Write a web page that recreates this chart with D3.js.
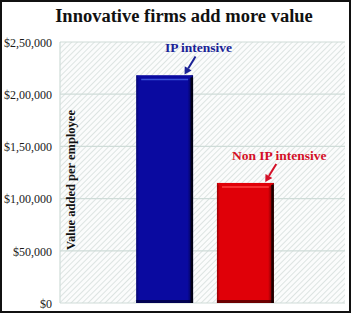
<!DOCTYPE html>
<html><head><meta charset="utf-8">
<script src="https://cdn.jsdelivr.net/npm/d3@7"></script>
<style>body{margin:0;background:#fff}svg{display:block}</style>
</head><body>
<svg id="c" width="353" height="314"></svg>
<script>
const title = "Innovative firms add more value";
const yTitle = "Value added per employee";
const series = ["IP intensive", "Non IP intensive"];
const values = [218000, 115000];
const yTicks = [0, 50000, 100000, 150000, 200000, 250000];
const yTickLabels = ["$0", "$50,000", "$1,00,000", "$1,50,000", "$2,00,000", "$2,50,000"];
const barColors = ["#0a0aa0", "#e00008"];
const barDark = ["#000040", "#500000"];
const barLight = ["#3a50d8", "#ff4040"];
const textColors = ["#1a2296", "#d41028"];

const svg = d3.select("#c");
const W = 353, H = 314;
const plot = {l: 60, t: 42, r: 345, b: 303};
const font = "'Liberation Serif','Times New Roman',serif";

svg.append("rect").attr("width", W).attr("height", H).attr("fill", "#fff");

const defs = svg.append("defs");
const pat = defs.append("pattern").attr("id", "hatch").attr("patternUnits", "userSpaceOnUse")
  .attr("width", 4).attr("height", 4).attr("patternTransform", "rotate(45)");
pat.append("rect").attr("width", 4).attr("height", 4).attr("fill", "#fbfcfc");
pat.append("line").attr("x1", 0).attr("y1", 0).attr("x2", 0).attr("y2", 4)
  .attr("stroke", "#d6dedc").attr("stroke-width", 1.6);

const y = d3.scaleLinear().domain([0, 250000]).range([plot.b, plot.t]);
const x = d3.scaleBand().domain(series).range([63, 347]).paddingInner(0.296).paddingOuter(0.907);

svg.append("rect").attr("x", plot.l).attr("y", plot.t).attr("width", plot.r - plot.l)
  .attr("height", plot.b - plot.t).attr("fill", "url(#hatch)");

svg.append("g").selectAll("line").data(yTicks).join("line")
  .attr("x1", plot.l).attr("x2", plot.r).attr("y1", d => y(d)).attr("y2", d => y(d))
  .attr("stroke", "#cfdcd8").attr("stroke-width", 1.2);
svg.append("line").attr("x1", plot.l).attr("x2", plot.l).attr("y1", plot.t).attr("y2", plot.b)
  .attr("stroke", "#cfdcd8").attr("stroke-width", 1.2);

const yAxis = d3.axisLeft(y).tickValues(yTicks).tickFormat((d, i) => yTickLabels[i]).tickSize(0).tickPadding(0);
const ga = svg.append("g").attr("transform", "translate(52,0)").call(yAxis);
ga.select(".domain").remove();
ga.selectAll("text").attr("font-family", font).attr("font-size", 12).attr("fill", "#1a1a1a").attr("dy", "0.35em");

series.forEach((s, i) => {
  const gh = defs.append("linearGradient").attr("id", "gh" + i).attr("x1", 0).attr("x2", 1).attr("y1", 0).attr("y2", 0);
  gh.append("stop").attr("offset", 0).attr("stop-color", barDark[i]).attr("stop-opacity", 0.5);
  gh.append("stop").attr("offset", 0.05).attr("stop-color", barDark[i]).attr("stop-opacity", 0);
  gh.append("stop").attr("offset", 0.9).attr("stop-color", barDark[i]).attr("stop-opacity", 0);
  gh.append("stop").attr("offset", 1).attr("stop-color", barDark[i]).attr("stop-opacity", 0.95);
});

const bars = svg.append("g").selectAll("g").data(series).join("g");
bars.append("rect")
  .attr("x", d => x(d)).attr("y", (d, i) => y(values[i]))
  .attr("width", x.bandwidth()).attr("height", (d, i) => y(0) - y(values[i]))
  .attr("fill", (d, i) => barColors[i]);
bars.append("rect")
  .attr("x", d => x(d)).attr("y", (d, i) => y(values[i]))
  .attr("width", x.bandwidth()).attr("height", (d, i) => y(0) - y(values[i]))
  .attr("fill", (d, i) => `url(#gh${i})`);
bars.append("polygon")
  .attr("points", (d, i) => {
    const x0 = x(d), x1 = x(d) + x.bandwidth(), t = y(values[i]);
    return `${x0},${t} ${x1},${t} ${x1 - 5},${t + 5} ${x0 + 5},${t + 5}`;
  })
  .attr("fill", (d, i) => barColors[i]);
bars.append("line")
  .attr("x1", d => x(d) + 5).attr("x2", d => x(d) + x.bandwidth() - 5)
  .attr("y1", (d, i) => y(values[i]) + 4).attr("y2", (d, i) => y(values[i]) + 4)
  .attr("stroke", (d, i) => barLight[i]).attr("stroke-width", 1.5);
bars.append("rect")
  .attr("x", d => x(d)).attr("y", y(0) - 3).attr("width", x.bandwidth()).attr("height", 3)
  .attr("fill", (d, i) => barDark[i]).attr("opacity", 0.8);
bars.append("rect")
  .attr("x", d => x(d) + x.bandwidth() - 2.5).attr("y", (d, i) => y(values[i]) + 2)
  .attr("width", 2.5).attr("height", (d, i) => y(0) - y(values[i]) - 2)
  .attr("fill", "#000").attr("opacity", 0.75);

const ann = svg.append("g");
series.forEach((s, i) => {
  const ex = x(s) + x.bandwidth() * 0.85, ey = y(values[i]) - 1;
  const sx = ex + 11, sy = ey - 18;
  const ang = Math.atan2(ey - sy, ex - sx);
  const hl = 7, hw = 4;
  const bx = ex - hl * Math.cos(ang), by = ey - hl * Math.sin(ang);
  ann.append("line").attr("x1", sx).attr("y1", sy).attr("x2", bx).attr("y2", by)
    .attr("stroke", textColors[i]).attr("stroke-width", 2);
  ann.append("polygon").attr("points", [
    [ex, ey],
    [bx + hw * Math.sin(ang), by - hw * Math.cos(ang)],
    [bx - hw * Math.sin(ang), by + hw * Math.cos(ang)]
  ].map(p => p.join(",")).join(" ")).attr("fill", textColors[i]);
  ann.append("text").attr("x", sx + 3).attr("y", sy - 4).attr("text-anchor", "middle")
    .attr("font-family", font).attr("font-weight", "bold").attr("font-size", 13.5)
    .attr("fill", textColors[i]).text(s);
});

svg.append("text").attr("transform", "translate(75,180) rotate(-90)").attr("text-anchor", "middle")
  .attr("font-family", font).attr("font-weight", "bold").attr("font-size", 12.5).attr("fill", "#111")
  .text(yTitle);

svg.append("text").attr("x", 184).attr("y", 22).attr("text-anchor", "middle")
  .attr("font-family", font).attr("font-weight", "bold").attr("font-size", 18.5).attr("fill", "#111")
  .text(title);

svg.append("rect").attr("x", 1).attr("y", 1).attr("width", 349).attr("height", 311)
  .attr("fill", "none").attr("stroke", "#111").attr("stroke-width", 2);
</script>
</body></html>
